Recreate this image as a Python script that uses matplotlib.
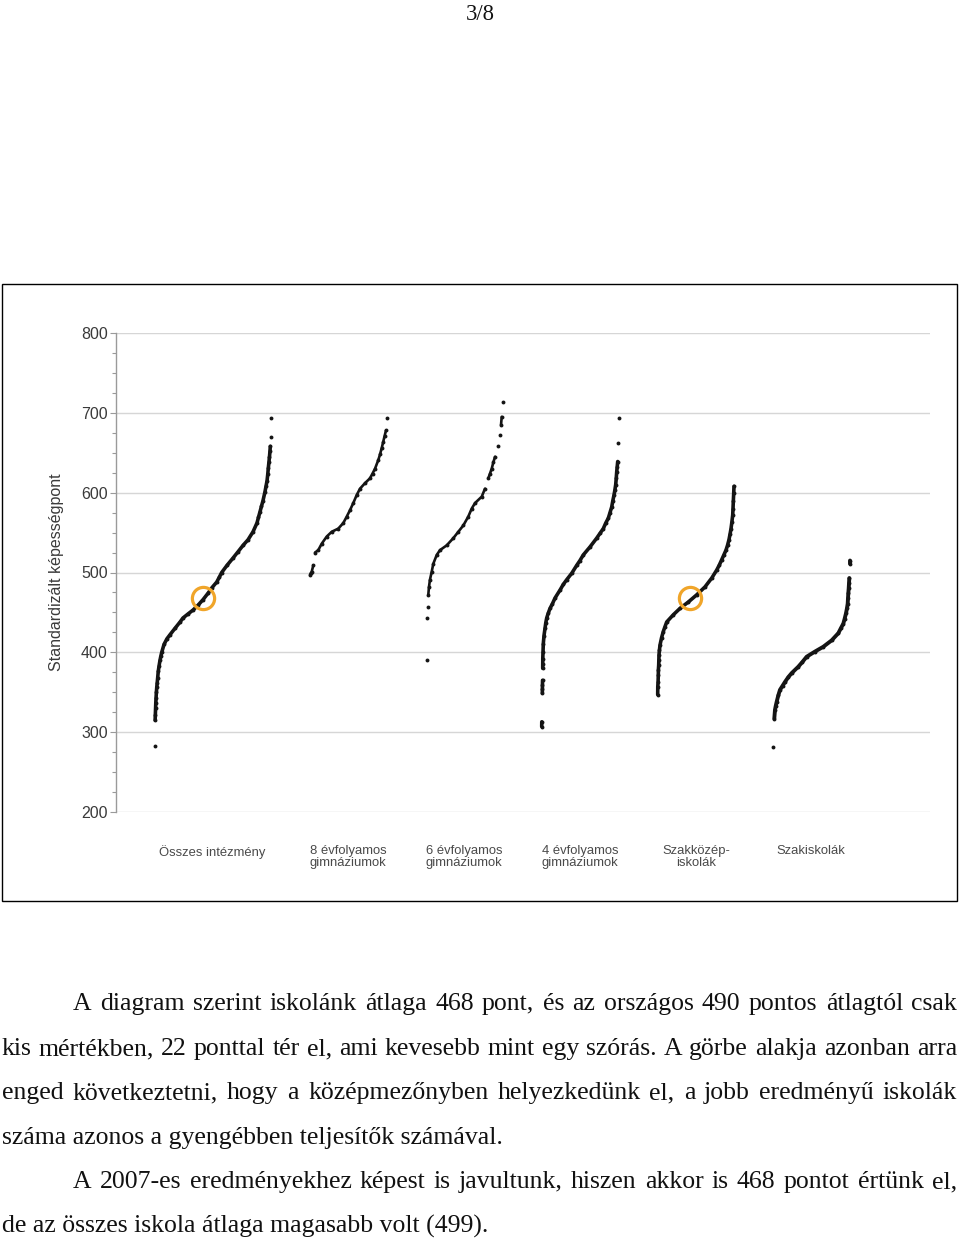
import numpy as np
import matplotlib
matplotlib.use("Agg")
import matplotlib.pyplot as plt
from matplotlib.patches import Rectangle
from matplotlib.ticker import MultipleLocator

W, H = 960, 1242

# ---------------- data ----------------
categories = ["Összes intézmény", "8 évfolyamos\ngimnáziumok", "6 évfolyamos\ngimnáziumok",
              "4 évfolyamos\ngimnáziumok", "Szakközép-\niskolák", "Szakiskolák"]

# percentile rank of school within group (0-100) and its standardized score
g1_pct = [0, 0.1, 0.3, 0.5, 0.7, 0.9, 1.2, 1.5, 1.9, 2.3, 2.8, 3.5, 4.3, 5.0, 5.8, 7.8, 10.3, 12.9,
          17.2, 21.6, 24.1, 28.4, 32.8, 37.1, 41.4, 45.7, 49.1, 53.2, 55.4, 57.5, 62.1, 67.2, 71.6,
          75.9, 80.2, 84.5, 87.9, 89.2, 90.5, 91.8, 93.1, 94.8, 95.7, 96.6, 97.2, 97.7, 98.2, 98.7,
          99.1, 99.4, 99.7, 100]
g1_val = [283, 315, 322, 330, 337, 343, 350, 356, 362, 368, 376, 383, 390, 395, 400, 410, 417, 422,
          430, 438, 443, 448, 453, 459, 466, 474, 481, 488, 494, 500, 509, 518, 526,
          534, 541, 551, 562, 569, 576, 583, 590, 601, 608, 615, 623, 631, 638, 645,
          652, 658, 670, 694]

g2_pct = [0, 1.0, 2.2, 4.3, 6.5, 10.7, 15.1, 21.6, 28.1, 36.6, 43.1, 47.5, 51.7, 56.0, 60.4, 64.7,
          71.2, 77.6, 80.9, 84.1, 88.4, 90.6, 92.8, 94.8, 96.5, 98.3, 100]
g2_val = [497, 499, 501, 509, 525, 528, 536, 545, 551, 555, 562, 570, 578, 587, 597, 605,
          612, 618, 624, 630, 641, 648, 656, 664, 671, 678, 694]

g3_pct = [0, 0.8, 1.3, 2.1, 3.0, 4.3, 6.6, 8.7, 13.2, 17.5, 26.3, 35.0, 41.6, 48.2, 54.7, 59.2,
          63.6, 72.4, 76.7, 81.1, 83.3, 85.5, 87.7, 89.9, 93.4, 96.4, 97.8, 98.7, 100]
g3_val = [390, 443, 457, 472, 482, 491, 501, 511, 522, 528, 534, 543, 551, 559, 570, 580,
          587, 595, 605, 618, 624, 630, 638, 645, 658, 672, 685, 695, 714]

g4_pct = [0, 0.1, 0.8, 0.9, 1.0, 1.1, 1.3, 1.35, 1.4, 1.7, 2.1, 3.0, 4.3, 5.3, 6.5, 8.5, 10.8,
          14.0, 17.3, 23.8, 28.0, 32.5, 39.0, 45.5, 49.7, 54.0, 62.7, 71.4, 75.7, 80.0, 83.2,
          86.5, 88.7, 90.9, 92.4, 93.9, 95.0, 96.1, 96.8, 97.4, 98.0, 98.7, 99.5, 100]
g4_val = [307, 313, 349, 354, 359, 365, 380, 386, 392, 400, 411, 421, 430, 437, 443, 449, 455,
          461, 468, 478, 485, 491, 499, 509, 515, 522, 532, 543, 549, 555, 562,
          568, 575, 582, 590, 597, 603, 610, 618, 626, 632, 639, 662, 693]

g5_pct = [0, 0.1, 0.5, 0.8, 0.9, 1.3, 1.5, 1.7, 2.3, 3.0, 5.0, 7.3, 9.5, 11.8, 20.4, 29.2, 40.1,
          51.1, 62.0, 70.8, 77.3, 80.6, 83.9, 86.7, 89.5, 91.5, 93.4, 94.8, 96.1, 97.2, 98.3,
          98.7, 99.1, 99.6, 100]
g5_val = [347, 357, 363, 372, 378, 384, 390, 397, 403, 409, 418, 426, 432, 438, 447, 455, 463,
          472, 482, 493, 503, 509, 516, 522, 528, 534, 541, 548, 555, 563, 572,
          580, 589, 599, 608]

g6_pct = [0, 1.3, 2.2, 3.2, 4.4, 6.5, 8.7, 12.0, 15.3, 19.6, 24.0, 32.6, 38.0, 43.5, 54.4, 65.2,
          76.1, 84.8, 88.0, 91.3, 93.0, 94.8, 96.0, 97.0, 97.4, 97.8, 98.3, 98.7, 99.1, 100, 100]
g6_val = [282, 317, 328, 333, 338, 346, 353, 358, 363, 369, 374, 382, 388, 394.5, 401, 407,
          415, 424, 430, 436, 442, 449, 455, 461, 468, 474, 480, 486.5, 493, 511, 515]

group_pcts = [g1_pct, g2_pct, g3_pct, g4_pct, g5_pct, g6_pct]
group_vals = [g1_val, g2_val, g3_val, g4_val, g5_val, g6_val]

# our school (highlighted)
school_score = 468
school_groups = [0, 4]
school_pct = [41.4, 42.3]

y_ticks = [200, 300, 400, 500, 600, 700, 800]
y_label = "Standardizált képességpont"
page_number = "3/8"

para_lines = [
    "A diagram szerint iskolánk átlaga 468 pont, és az országos 490 pontos átlagtól csak",
    "kis mértékben, 22 ponttal tér el, ami kevesebb mint egy szórás. A görbe alakja azonban arra",
    "enged következtetni, hogy a középmezőnyben helyezkedünk el, a jobb eredményű iskolák",
    "száma azonos a gyengébben teljesítők számával.",
    "A 2007-es eredményekhez képest is javultunk, hiszen akkor is 468 pontot értünk el,",
    "de az összes iskola átlaga magasabb volt (499).",
]

# ---------------- layout (pixels) ----------------
group_left = [155, 310, 426.7, 541.7, 657.7, 773.3]
group_width = [116, 77.3, 76, 77, 76.3, 76.7]
group_lw = [2.6, 1.9, 1.9, 2.6, 2.6, 2.8]
label_center = [212, 348, 464, 580, 696, 811]
AX_L, AX_R, AX_T, AX_B = 116, 930, 333, 812

fig = plt.figure(figsize=(W / 100, H / 100), dpi=100)
fx = lambda px: px / W
fy = lambda py: 1 - py / H

ax = fig.add_axes([fx(AX_L), fy(AX_B), (AX_R - AX_L) / W, (AX_B - AX_T) / H])
ax.set_xlim(AX_L, AX_R)
ax.set_ylim(200, 800)

for s in ["top", "right", "bottom"]:
    ax.spines[s].set_visible(False)
ax.spines["left"].set_color("#9a9a9a")
ax.spines["left"].set_linewidth(1.0)
ax.set_xticks([])
ax.set_yticks(y_ticks)
ax.yaxis.set_minor_locator(MultipleLocator(25))
ax.tick_params(axis="y", which="both", direction="out", color="#9a9a9a", width=0.8)
ax.tick_params(axis="y", which="major", length=4, pad=2, labelsize=11.5, labelcolor="#3a3a3a")
ax.tick_params(axis="y", which="minor", length=3)
for lab in ax.get_yticklabels():
    lab.set_family("Liberation Sans")
ax.yaxis.grid(True, which="major", color="#d6d6d6", lw=1.0)
ax.set_axisbelow(True)

dot_color = "#141414"
for gi, (pcts, vals) in enumerate(zip(group_pcts, group_vals)):
    x = group_left[gi] + np.array(pcts, dtype=float) / 100 * group_width[gi]
    y = np.array(vals, dtype=float)
    xl, yl = [], []
    for i in range(len(y)):
        if i > 0 and abs(y[i] - y[i - 1]) >= 12:
            xl.append(np.nan)
            yl.append(np.nan)
        xl.append(x[i])
        yl.append(y[i])
    ax.plot(xl, yl, color=dot_color, lw=group_lw[gi], solid_capstyle="round", zorder=3)
    ax.plot(x, y, ls="none", marker="o", ms=2.8, color=dot_color, mew=0, zorder=3)

for gi, p in zip(school_groups, school_pct):
    xs = group_left[gi] + p / 100 * group_width[gi]
    ax.plot([xs], [school_score], ls="none", marker="o", ms=16, mfc="none",
            mec="#f0a52a", mew=2.3, zorder=4)

# y label
fig.text(fx(57), fy(572), y_label, rotation=90, ha="center", va="center",
         fontsize=11.5, color="#3a3a3a", family="Liberation Sans")

# category labels
for c, cx in zip(categories, label_center):
    fig.text(fx(cx), fy(845), c, ha="center", va="top", fontsize=9.4,
             color="#4a4a4a", family="Liberation Sans", linespacing=1.05)

# frame around chart
fig.add_artist(Rectangle((fx(2), fy(901)), 955 / W, 617 / H, transform=fig.transFigure,
                         fill=False, ec="black", lw=1.0))

# page number
fig.text(fx(480), fy(20), page_number, ha="center", va="baseline", fontsize=16.3,
         family="Liberation Serif", color="#111111")

# paragraph text
renderer = fig.canvas.get_renderer()
text_kw = dict(fontsize=18.5, family="Liberation Serif", color="#111111", va="baseline")
line_specs = [  # (x start, baseline y, justify)
    (73, 1010, True), (2, 1055, True), (2, 1099, True), (2, 1144, False),
    (73, 1188, True), (2, 1233, False),
]
RIGHT = 957
for txt, (x0, yb, just) in zip(para_lines, line_specs):
    if not just:
        fig.text(fx(x0), fy(yb), txt, ha="left", **text_kw)
        continue
    words = txt.split(" ")
    arts, widths = [], []
    for w in words:
        t = fig.text(0, fy(yb), w, ha="left", **text_kw)
        widths.append(t.get_window_extent(renderer=renderer).width)
        arts.append(t)
    gap = (RIGHT - x0 - sum(widths)) / (len(words) - 1)
    xc = x0
    for t, wd in zip(arts, widths):
        t.set_x(fx(xc))
        xc += wd + gap

fig.savefig("out.png", dpi=100)
